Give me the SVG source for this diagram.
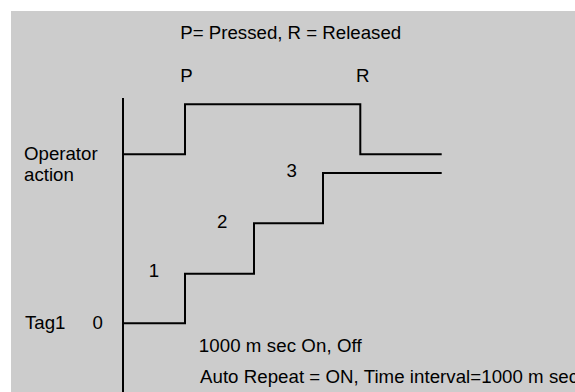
<svg xmlns="http://www.w3.org/2000/svg" width="575" height="392" viewBox="0 0 575 392">
<style>
text{font-family:"Liberation Sans",Arial,sans-serif;font-size:18.67px;fill:#000}
.ln{fill:none;stroke:#000;stroke-width:2;stroke-linejoin:miter}
</style>
<rect x="0" y="0" width="575" height="392" fill="#ffffff"/>
<rect x="11" y="11" width="564" height="381" fill="#cccccc"/>
<g id="title"><text x="180.3" y="38.5">P= Pressed, R = Released</text></g>
<g id="label-P"><text x="180.3" y="82">P</text></g>
<g id="label-R"><text x="356" y="82">R</text></g>
<g id="operator-label"><text x="24" y="159.5">Operator</text><text x="24" y="180.5">action</text></g>
<g id="tag-label"><text x="25" y="328.5">Tag1</text><text x="92.5" y="328.5">0</text></g>
<g id="step-labels"><text x="148.7" y="277">1</text><text x="217" y="227.5">2</text><text x="286.5" y="177">3</text></g>
<g id="notes"><text x="198.7" y="352" textLength="163" lengthAdjust="spacing">1000 m sec On, Off</text><text x="200" y="382.5" textLength="378" lengthAdjust="spacing">Auto Repeat = ON, Time interval=1000 m sec</text></g>
<g id="connectors">
<line class="ln" x1="123" y1="98" x2="123" y2="392"/>
<path id="operator-signal" class="ln" d="M123 154.3H185V104.3H360.3V154.3H441.7"/>
<path id="tag-signal" class="ln" d="M123 323.3H185V273.7H254V223.3H323V173H441.7"/>
</g>
</svg>
